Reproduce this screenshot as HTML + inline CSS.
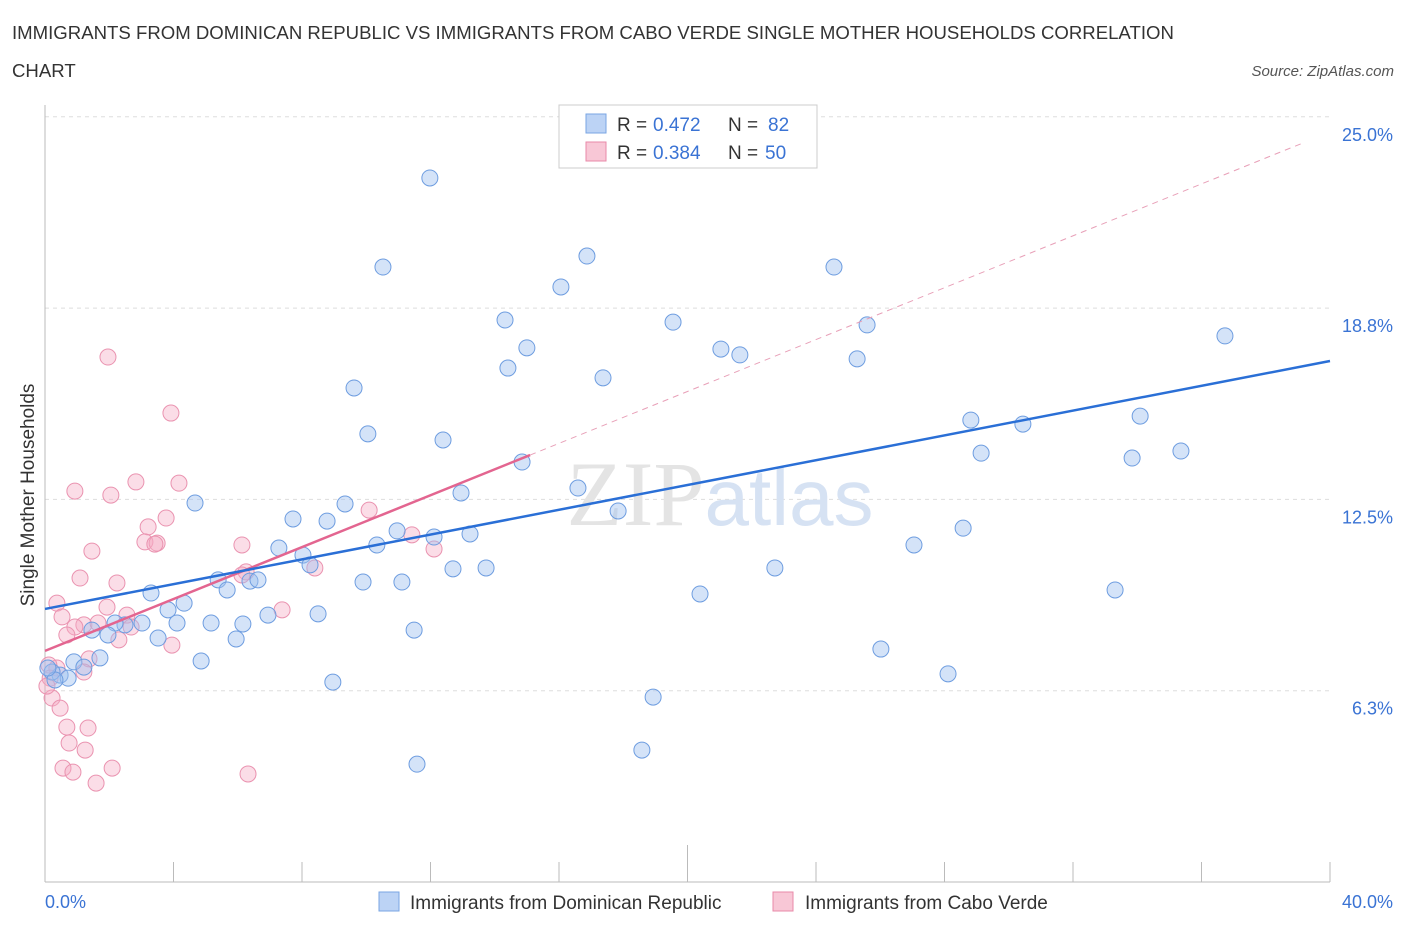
<!DOCTYPE html>
<html><head><meta charset="utf-8"><style>
body{margin:0;background:#fff;font-family:"Liberation Sans",sans-serif;}
svg{display:block}
</style></head><body>
<svg id="chart" width="1406" height="930">
<text x="12" y="39" font-size="18.6" fill="#333">IMMIGRANTS FROM DOMINICAN REPUBLIC VS IMMIGRANTS FROM CABO VERDE SINGLE MOTHER HOUSEHOLDS CORRELATION</text>
<text x="12" y="77" font-size="18.6" fill="#333">CHART</text>
<text x="1394" y="76" font-size="15" fill="#555" font-style="italic" text-anchor="end">Source: ZipAtlas.com</text>
<g id="grid"></g>
<text x="720" y="525" font-size="92" fill="#e4e4e4" text-anchor="middle" font-family="Liberation Serif,serif">ZIP<tspan fill="#d6e2f3" font-family="Liberation Sans,sans-serif" font-size="80">atlas</tspan></text>
<g id="axes"></g>
<g id="lines"></g>
<g id="pts"></g>
<text x="34" y="495" font-size="19" fill="#333" text-anchor="middle" transform="rotate(-90 34 495)">Single Mother Households</text>
<g>
<rect x="559" y="105" width="258" height="63" fill="#fff" stroke="#ccc"/>
<rect x="586" y="114" width="20" height="19" fill="#bcd3f5" stroke="#7aa6e3"/>
<text x="617" y="131" font-size="19" fill="#333">R =</text>
<text x="653" y="131" font-size="19" fill="#3a73d4">0.472</text>
<text x="728" y="131" font-size="19" fill="#333">N =</text>
<text x="768" y="131" font-size="19" fill="#3a73d4">82</text>
<rect x="586" y="142" width="20" height="19" fill="#f8c7d6" stroke="#e88aa8"/>
<text x="617" y="159" font-size="19" fill="#333">R =</text>
<text x="653" y="159" font-size="19" fill="#3a73d4">0.384</text>
<text x="728" y="159" font-size="19" fill="#333">N =</text>
<text x="765" y="159" font-size="19" fill="#3a73d4">50</text>
</g>
<g>
<rect x="379" y="892" width="20" height="19" fill="#bcd3f5" stroke="#7aa6e3"/>
<text x="410" y="909" font-size="19" fill="#333">Immigrants from Dominican Republic</text>
<rect x="773" y="892" width="20" height="19" fill="#f8c7d6" stroke="#e88aa8"/>
<text x="805" y="909" font-size="19" fill="#333">Immigrants from Cabo Verde</text>
</g>
</svg>
<script>
const blueX=[11.98,10.52,16.87,16.06,24.56,14.32,19.55,25.59,15.00,21.04,21.63,14.41,17.37,25.28,36.73,9.62,10.05,12.39,28.82,30.44,34.09,29.14,33.84,35.36,14.85,16.59,12.95,17.84,4.67,9.34,7.72,8.78,10.96,12.11,13.23,10.33,7.28,8.03,28.58,27.05,12.70,13.73,22.72,8.25,9.90,11.11,5.39,6.38,6.63,5.67,3.30,4.33,3.83,20.39,33.31,5.17,6.16,6.94,8.50,4.11,3.02,2.49,2.18,1.46,1.96,3.52,5.95,11.49,26.02,4.86,1.71,0.90,1.21,28.11,8.96,18.93,18.58,11.58,0.47,0.72,0.22,0.31,0.09];
const blueY=[23.0,20.09,20.45,19.44,20.09,18.36,18.29,18.20,17.45,17.41,17.22,16.79,16.47,17.09,17.84,16.14,14.64,14.44,15.09,14.96,15.22,14.01,13.85,14.08,13.72,12.87,12.71,12.12,12.38,12.35,11.86,11.79,11.47,11.27,11.37,11.01,10.91,10.68,11.56,11.01,10.23,10.26,10.26,10.36,9.80,9.80,9.87,9.83,9.87,9.54,9.44,9.11,8.89,9.41,9.54,8.46,8.43,8.72,8.76,8.46,8.46,8.40,8.46,8.23,8.07,7.97,7.94,8.23,7.61,7.22,7.32,7.19,7.02,6.80,6.53,6.04,4.31,3.85,6.76,6.66,6.86,6.60,6.99];
const pinkX=[1.96,3.92,0.93,2.05,2.83,4.17,3.77,3.21,3.11,3.49,3.42,1.46,6.13,10.09,11.42,12.11,1.09,2.24,6.26,6.13,8.40,0.37,1.93,7.38,2.55,0.53,1.21,0.93,1.65,2.68,0.68,2.30,3.95,1.37,1.21,0.37,0.12,0.16,0.22,0.47,0.68,1.34,0.75,1.25,0.56,0.87,2.09,1.59,6.32,0.06];
const pinkY=[17.15,15.32,12.77,12.64,13.07,13.03,11.89,11.60,11.11,11.07,11.04,10.81,11.01,12.15,11.34,10.88,9.93,9.77,10.13,10.03,10.26,9.11,8.98,8.89,8.72,8.66,8.40,8.33,8.46,8.33,8.07,7.91,7.74,7.29,6.86,6.99,7.09,6.66,6.01,5.68,5.06,5.03,4.54,4.31,3.72,3.59,3.72,3.23,3.53,6.40];
const blueTrend=[8.92,17.02];
const pinkTrend=[7.55,24.5];
const yTicks=[25.0,18.8,12.5,6.3];
const yTickVals=[25,18.75,12.5,6.25];
const xTickLabels=["0.0%","40.0%"];
const NS="http://www.w3.org/2000/svg";
const X0=45,X1=1330,YB=882,PXY=30.61;
const sx=v=>X0+(X1-X0)*v/40;
const sy=v=>YB-v*PXY;
function mk(tag,attrs,parent){const e=document.createElementNS(NS,tag);for(const k in attrs)e.setAttribute(k,attrs[k]);document.getElementById(parent).appendChild(e);return e;}
yTickVals.forEach((v,i)=>{
 const l=mk('line',{x1:X0,x2:X1,y1:sy(v),y2:sy(v),stroke:'#ddd','stroke-dasharray':'4,4'},'grid');
 
 
 const t=mk('text',{x:1393,y:sy(v)+24,'font-size':18,fill:'#3a73d4','text-anchor':'end'},'grid');
 t.textContent=yTicks[i].toFixed(1)+'%';
 
 
});
mk('line',{x1:X0,x2:X0,y1:105,y2:YB,stroke:'#bbb'},'axes');
mk('line',{x1:X0,x2:X1,y1:YB,y2:YB,stroke:'#bbb'},'axes');
for(let i=1;i<=10;i++){
 const x=sx(i*4);
 const tk=mk('line',{x1:x,x2:x,y1:i==5?845:862,y2:YB,stroke:'#bbb'},'axes');
 
 
}
const xl0=mk('text',{x:45,y:908,'font-size':18,fill:'#3a73d4'},'axes');xl0.textContent=xTickLabels[0];


const xl1=mk('text',{x:1393,y:908,'font-size':18,fill:'#3a73d4','text-anchor':'end'},'axes');xl1.textContent=xTickLabels[1];


pinkX.forEach((x,i)=>{
 const c=mk('circle',{cx:sx(x),cy:sy(pinkY[i]),r:8,fill:'rgba(244,170,195,0.4)',stroke:'#ea93b0','stroke-width':1},'pts');
 
 
});
blueX.forEach((x,i)=>{
 const c=mk('circle',{cx:sx(x),cy:sy(blueY[i]),r:8,fill:'rgba(160,194,240,0.45)',stroke:'#6e9de0','stroke-width':1},'pts');
 
 
});
const pSlope=(pinkTrend[1]-pinkTrend[0])/40;
const pd=mk('line',{x1:sx(15.1),y1:sy(pinkTrend[0]+pSlope*15.1),x2:sx(39.2),y2:sy(pinkTrend[0]+pSlope*39.2),stroke:'#e8a0b8','stroke-dasharray':'6,5','stroke-width':1},'lines');


const ps=mk('line',{x1:sx(0),y1:sy(pinkTrend[0]),x2:sx(15.1),y2:sy(pinkTrend[0]+pSlope*15.1),stroke:'#e36590','stroke-width':2.5},'lines');


const bl=mk('line',{x1:sx(0),y1:sy(blueTrend[0]),x2:sx(40),y2:sy(blueTrend[1]),stroke:'#2a6fd6','stroke-width':2.5},'lines');


document.getElementById('chart').appendChild(document.getElementById('lines'));
</script>
</body></html>
